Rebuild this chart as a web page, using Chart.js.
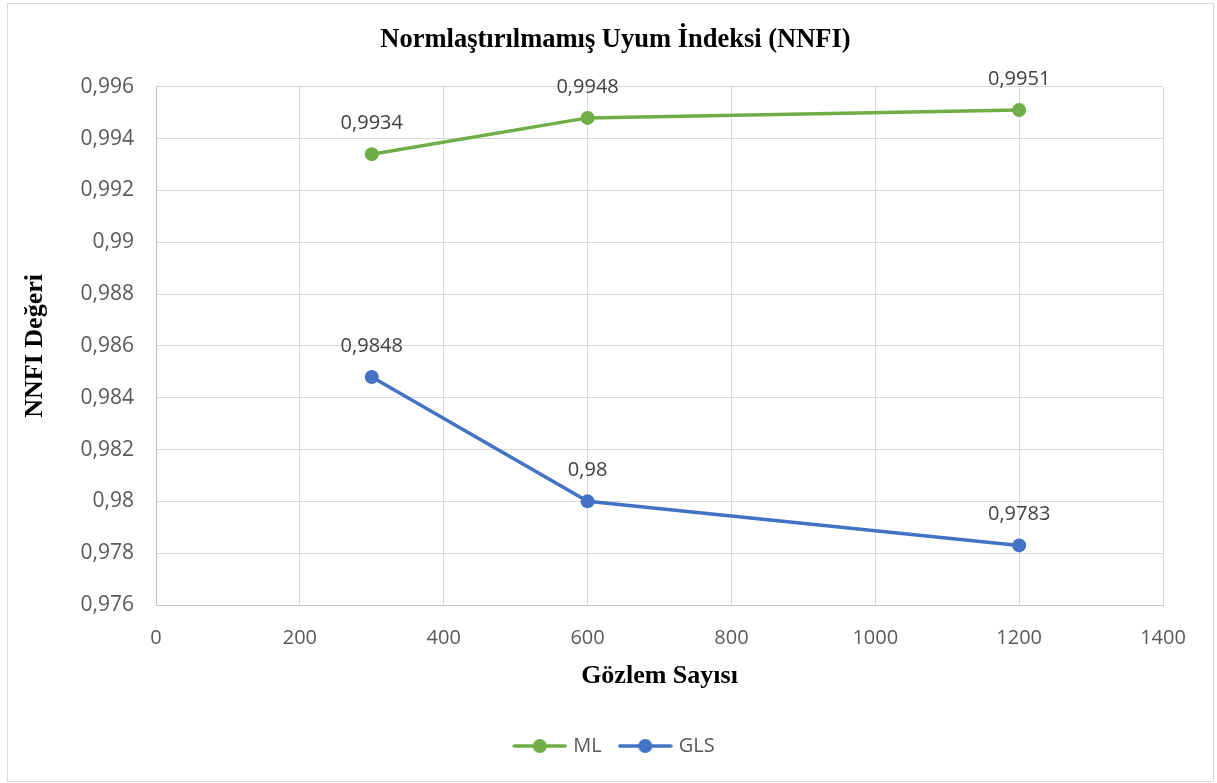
<!DOCTYPE html>
<html>
<head>
<meta charset="utf-8">
<script src="https://cdn.jsdelivr.net/npm/chart.js@4/dist/chart.umd.min.js"></script>
<style>
  html, body { margin: 0; padding: 0; background: #fff; }
  #wrap { position: relative; width: 1217px; height: 783px; }
</style>
</head>
<body>
<div id="wrap"><canvas id="nnfi-chart" width="1217" height="783"></canvas></div>
<script>
// NNFI chart — ML vs GLS by sample size

const sampleSizes = [300, 600, 1200];
const mlValues    = [0.9934, 0.9948, 0.9951];
const glsValues   = [0.9848, 0.9800, 0.9783];
const seriesNames = ['ML', 'GLS'];
const xTicks = [0, 200, 400, 600, 800, 1000, 1200, 1400];
const yTicks = [0.976, 0.978, 0.980, 0.982, 0.984, 0.986, 0.988, 0.990, 0.992, 0.994, 0.996];

const GREEN = '#70AD47';
const BLUE  = '#4472C4';
const TEXT  = '#595959';
const SANS  = '"Open Sans", "Noto Sans", sans-serif';
const SERIF = '"Liberation Serif", "Times New Roman", serif';

// comma decimal like the Excel original
const fmt = (v) => String(Number(Number(v).toFixed(4))).replace('.', ',');

const toPoints = (vals) => sampleSizes.map((x, i) => ({ x: x, y: vals[i] }));

// legend marker: line with a dot in the middle
function legendMarker(color) {
    const c = document.createElement('canvas');
    c.width = 55; c.height = 16;
    const g = c.getContext('2d');
    g.strokeStyle = color;
    g.lineWidth = 3.5;
    g.lineCap = 'round';
    g.beginPath(); g.moveTo(2, 8); g.lineTo(53, 8); g.stroke();
    g.fillStyle = color;
    g.beginPath(); g.arc(27.5, 8, 7, 0, Math.PI * 2); g.fill();
    return c;
}

// ── Plugins ─────────────────────────────────────────────────────────────────
const frame = {
    id: 'frame',
    beforeDraw(chart) {
        const ctx = chart.ctx;
        ctx.save();
        ctx.fillStyle = '#fff';
        ctx.fillRect(0, 0, chart.width, chart.height);
        ctx.strokeStyle = '#d9d9d9';
        ctx.lineWidth = 1;
        ctx.strokeRect(7.5, 3.5, 1206, 778);
        ctx.restore();
    }
};

const pointLabels = {
    id: 'pointLabels',
    afterDatasetsDraw(chart) {
        const ctx = chart.ctx;
        ctx.save();
        ctx.font = '20px ' + SANS;
        ctx.fillStyle = '#404040';
        ctx.textAlign = 'center';
        ctx.textBaseline = 'middle';
        chart.data.datasets.forEach((ds, di) => {
            chart.getDatasetMeta(di).data.forEach((pt, i) => {
                ctx.fillText(fmt(ds.data[i].y), pt.x, pt.y - 31);
            });
        });
        ctx.restore();
    }
};

new Chart(document.getElementById('nnfi-chart'), {
    type: 'scatter',
    data: {
        datasets: [
            {
                label: seriesNames[0],
                data: toPoints(mlValues),
                showLine: true,
                borderColor: GREEN,
                backgroundColor: GREEN,
                borderWidth: 3.5,
                pointRadius: 7,
                pointHoverRadius: 7,
                pointBorderWidth: 0,
            },
            {
                label: seriesNames[1],
                data: toPoints(glsValues),
                showLine: true,
                borderColor: BLUE,
                backgroundColor: BLUE,
                borderWidth: 3.5,
                pointRadius: 7,
                pointHoverRadius: 7,
                pointBorderWidth: 0,
            }
        ]
    },
    options: {
        responsive: false,
        animation: false,
        layout: { padding: { left: 14, right: 0, top: 0, bottom: 17 } },
        plugins: {
            title: {
                display: true,
                text: 'Normlaştırılmamış Uyum İndeksi (NNFI)',
                color: '#000',
                font: { family: SERIF, size: 26.5, weight: 'bold' },
                padding: { top: 24, bottom: 31 },
            },
            legend: {
                position: 'bottom',
                labels: {
                    usePointStyle: true,
                    pointStyleWidth: 47,
                    color: TEXT,
                    font: { family: SANS, size: 20 },
                    padding: 20,
                    generateLabels: (chart) => chart.data.datasets.map((ds, i) => ({
                        text: ds.label,
                        pointStyle: legendMarker(ds.borderColor),
                        fillStyle: ds.borderColor,
                        strokeStyle: ds.borderColor,
                        fontColor: TEXT,
                        lineWidth: 0,
                        datasetIndex: i,
                        hidden: false,
                    })),
                },
            },
            tooltip: { enabled: false },
        },
        scales: {
            x: {
                type: 'linear',
                min: 0,
                max: 1400,
                afterFit: (s) => { s.height = 111; },
                afterBuildTicks: (s) => { s.ticks = xTicks.map(v => ({ value: v })); },
                ticks: {
                    color: TEXT,
                    font: { family: SANS, size: 20 },
                    padding: 21,
                    maxRotation: 0,
                    callback: (v) => String(v),
                },
                grid: { color: '#d9d9d9', lineWidth: 1, drawTicks: false },
                border: { color: '#bfbfbf', width: 1 },
                title: {
                    display: true,
                    text: 'Gözlem Sayısı',
                    color: '#000',
                    font: { family: SERIF, size: 26, weight: 'bold' },
                    padding: { top: 0, bottom: 24 },
                },
            },
            y: {
                type: 'linear',
                min: 0.976,
                max: 0.996,
                afterFit: (s) => { s.width = 142; },
                afterBuildTicks: (s) => { s.ticks = yTicks.map(v => ({ value: v })); },
                ticks: {
                    color: TEXT,
                    font: { family: SANS, size: 21 },
                    padding: 22,
                    callback: (v) => fmt(v),
                },
                grid: { color: '#d9d9d9', lineWidth: 1, drawTicks: false },
                border: { color: '#bfbfbf', width: 1 },
                title: {
                    display: true,
                    text: 'NNFI Değeri',
                    color: '#000',
                    font: { family: SERIF, size: 26, weight: 'bold' },
                    padding: { top: 6, bottom: 0 },
                },
            },
            // empty right-hand box, keeps plot right edge at the reference spot
            yRight: {
                type: 'linear',
                position: 'right',
                afterFit: (s) => { s.width = 54; },
                ticks: { display: false },
                grid: { display: false, drawTicks: false },
                border: { display: false },
            }
        }
    },
    plugins: [frame, pointLabels]
});
</script>
</body>
</html>
